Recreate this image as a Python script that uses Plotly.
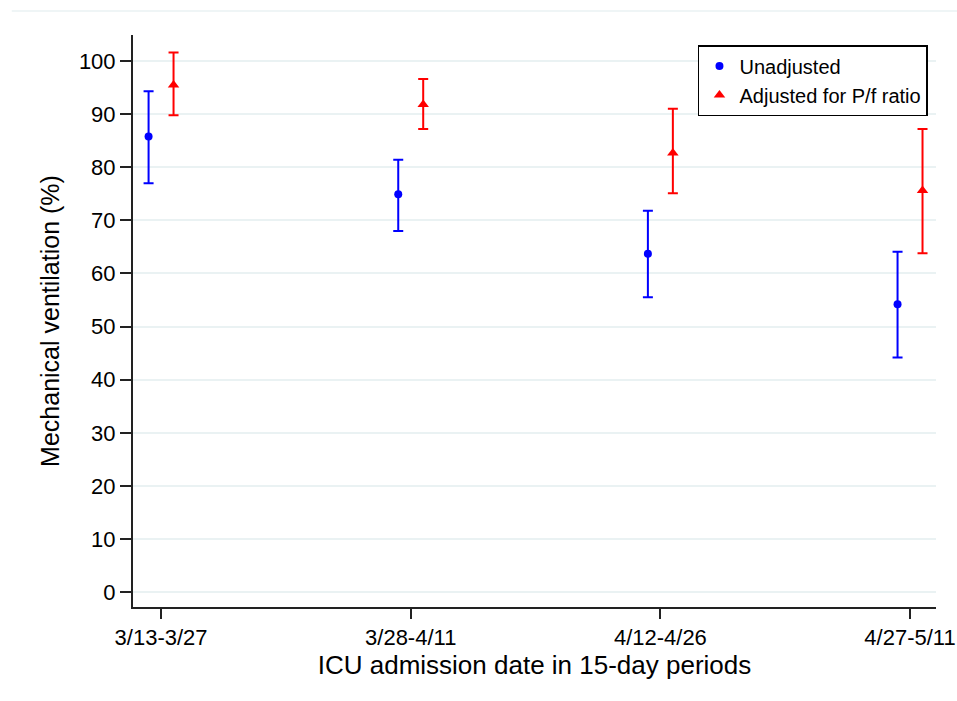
import plotly.graph_objects as go

periods = ["3/13-3/27", "3/28-4/11", "4/12-4/26", "4/27-5/11"]
unadj_est = [85.8, 74.9, 63.7, 54.2]
unadj_lo = [77.0, 68.0, 55.5, 44.2]
unadj_hi = [94.3, 81.4, 71.8, 64.1]
adj_est = [95.5, 91.8, 82.7, 75.6]
adj_lo = [89.8, 87.2, 75.1, 63.8]
adj_hi = [101.6, 96.6, 91.0, 87.2]
y_ticks = list(range(0, 101, 10))

pos = list(range(1, len(periods) + 1))
off = 0.05
font_family = "Liberation Sans, Arial, sans-serif"

fig = go.Figure()
fig.add_trace(go.Scatter(
    x=[p - off for p in pos], y=unadj_est, mode="markers", name="Unadjusted",
    marker=dict(symbol="circle", size=8, color="#0000ff"),
    error_y=dict(type="data", symmetric=False,
                 array=[h - e for h, e in zip(unadj_hi, unadj_est)],
                 arrayminus=[e - l for e, l in zip(unadj_est, unadj_lo)],
                 color="#0000ff", thickness=2, width=5),
))
fig.add_trace(go.Scatter(
    x=[p + off for p in pos], y=adj_est, mode="markers", name="Adjusted for P/f ratio",
    marker=dict(symbol="triangle-up", size=10, color="#ff0000"),
    error_y=dict(type="data", symmetric=False,
                 array=[h - e for h, e in zip(adj_hi, adj_est)],
                 arrayminus=[e - l for e, l in zip(adj_est, adj_lo)],
                 color="#ff0000", thickness=2, width=5),
))

fig.update_layout(
    width=957, height=701,
    margin=dict(l=133, r=21, t=35, b=94, autoexpand=False),
    paper_bgcolor="white", plot_bgcolor="white",
    font=dict(family=font_family, color="#000000", size=20),
    showlegend=True,
    legend=dict(x=0.99, y=0.9825, xanchor="right", yanchor="top",
                bordercolor="#000000", borderwidth=1.5, bgcolor="white",
                font=dict(size=20), itemwidth=30, tracegroupgap=0),
    xaxis=dict(range=[0.8876, 4.104], tickvals=pos, ticktext=periods, automargin=False,
               showgrid=False, zeroline=False, showline=True, linecolor="#222222", linewidth=2,
               ticks="outside", ticklen=10, tickwidth=2, tickcolor="#222222",
               tickfont=dict(size=22),
               title=dict(text="ICU admission date in 15-day periods", font=dict(size=26), standoff=2)),
    yaxis=dict(range=[-2.8, 104.9], tickvals=y_ticks, automargin=False,
               showgrid=True, gridcolor="#eaf2f3", gridwidth=1.5, zeroline=False,
               showline=True, linecolor="#222222", linewidth=2,
               ticks="outside", ticklen=11, tickwidth=2, tickcolor="#222222",
               tickfont=dict(size=22),
               title=dict(text="Mechanical ventilation (%)", font=dict(size=25), standoff=12)),
)
fig.add_shape(type="line", xref="paper", yref="paper", x0=-0.151, x1=1.027, y0=1.042, y1=1.042,
              line=dict(color="#eaf2f3", width=1.5))

fig.write_html("out.html")
